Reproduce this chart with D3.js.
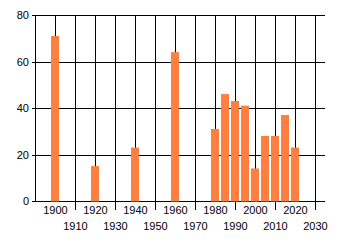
<!DOCTYPE html>
<html>
<head>
<meta charset="utf-8">
<script src="https://cdn.jsdelivr.net/npm/d3@7"></script>
<style>
  body { margin: 0; background: #fff; }
  text { font-family: "Liberation Sans", Arial, sans-serif; font-size: 11px; fill: #000; }
</style>
</head>
<body>
<svg id="chart" width="340" height="245"></svg>
<script>
const years = [1900, 1920, 1940, 1960, 1980, 1985, 1990, 1995, 2000, 2005, 2010, 2015, 2020];
const values = [71, 15, 23, 64, 31, 46, 43, 41, 14, 28, 28, 37, 23];
const xTicks = d3.range(1900, 2031, 10);
const yTicks = [0, 20, 40, 60, 80];

const svg = d3.select("#chart");
const plotLeft = 35, plotRight = 325, plotTop = 15, plotBottom = 201;

const x = d3.scaleLinear().domain([1890, 2035]).range([plotLeft, plotRight]);
const y = d3.scaleLinear().domain([0, 80]).range([plotBottom, plotTop]);

// horizontal grid
svg.append("g")
  .selectAll("line")
  .data(yTicks)
  .join("line")
  .attr("x1", plotLeft - 3)
  .attr("x2", plotRight)
  .attr("y1", (d) => Math.round(y(d)) + 0.5)
  .attr("y2", (d) => Math.round(y(d)) + 0.5)
  .attr("stroke", "#000");

// vertical grid, odd decades run below the axis as separators
svg.append("g")
  .selectAll("line")
  .data(xTicks)
  .join("line")
  .attr("x1", (d) => Math.round(x(d)) + 0.5)
  .attr("x2", (d) => Math.round(x(d)) + 0.5)
  .attr("y1", plotTop)
  .attr("y2", (d, i) => (i % 2 ? plotBottom + 9 : plotBottom))
  .attr("stroke", "#000");

svg.append("line")
  .attr("x1", plotLeft + 0.5).attr("x2", plotLeft + 0.5)
  .attr("y1", plotTop).attr("y2", plotBottom)
  .attr("stroke", "#000");

// bars
svg.append("g")
  .selectAll("rect")
  .data(years)
  .join("rect")
  .attr("x", (d) => Math.round(x(d)) - 4)
  .attr("width", 8)
  .attr("y", (d, i) => y(values[i]))
  .attr("height", (d, i) => plotBottom - y(values[i]) + 0.5)
  .attr("fill", "#ff7f40");

// y labels
svg.append("g")
  .selectAll("text")
  .data(yTicks)
  .join("text")
  .attr("x", 29)
  .attr("y", (d) => y(d) + 4)
  .attr("text-anchor", "end")
  .text((d) => d);

// x labels, staggered
svg.append("g")
  .selectAll("text")
  .data(xTicks)
  .join("text")
  .attr("x", (d) => x(d) + 0.5)
  .attr("y", (d, i) => (i % 2 ? 230 : 214))
  .attr("text-anchor", "middle")
  .text((d) => d);
</script>
</body>
</html>
